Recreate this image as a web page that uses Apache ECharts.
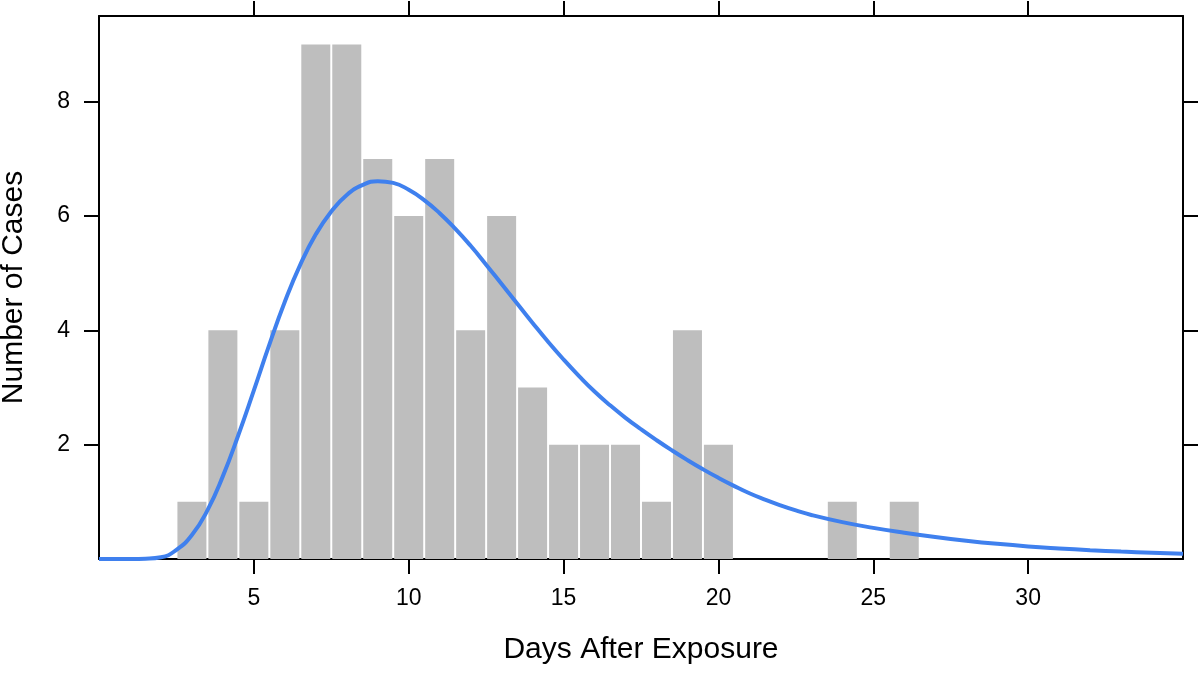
<!DOCTYPE html>
<html>
<head>
<meta charset="utf-8">
<script src="https://cdn.jsdelivr.net/npm/echarts@6/dist/echarts.min.js"></script>
<style>html,body{margin:0;padding:0;background:#fff}#c{width:1200px;height:673px}</style>
</head>
<body>
<div id="c"></div>
<script>
// Histogram: day after exposure (bin centre) and number of cases
const days  = [3, 4, 5, 6, 7, 8, 9, 10, 11, 12, 13, 14, 15, 16, 17, 18, 19, 20, 24, 26];
const cases = [1, 4, 1, 4, 9, 9, 7, 6, 7, 4, 6, 3, 2, 2, 2, 1, 4, 2, 1, 1];

// Fitted density curve (scaled to counts)
const curveX = [0, 1, 1.5, 2, 2.5, 3, 3.5, 4, 4.5, 5, 5.5, 6, 6.5, 7, 7.5, 8, 8.5, 9, 9.5, 10,
  10.5, 11, 11.5, 12, 12.5, 13, 13.5, 14, 14.5, 15, 15.5, 16, 16.5, 17, 17.5, 18, 18.5, 19, 19.5, 20,
  20.5, 21, 21.5, 22, 22.5, 23, 24, 25, 26, 27, 28, 29, 30, 31, 32, 33, 34, 35];
const curveY = [0, 0.001, 0.006, 0.03, 0.16, 0.42, 0.85, 1.45, 2.17, 2.95, 3.75, 4.5, 5.15, 5.68, 6.08, 6.37, 6.54, 6.61, 6.58, 6.46,
  6.28, 6.05, 5.78, 5.48, 5.15, 4.81, 4.47, 4.13, 3.8, 3.49, 3.2, 2.93, 2.69, 2.47, 2.27, 2.08, 1.9, 1.73, 1.57, 1.42,
  1.28, 1.15, 1.04, 0.94, 0.85, 0.77, 0.645, 0.545, 0.46, 0.385, 0.32, 0.265, 0.22, 0.185, 0.155, 0.13, 0.11, 0.09];

const xTicks = [5, 10, 15, 20, 25, 30];
const yTicks = [2, 4, 6, 8];

const FONT = 'Liberation Sans, Arial, Helvetica, sans-serif';
const chart = echarts.init(document.getElementById('c'));
const lineStyle = {color: '#000', width: 2};
const tickStyle = {color: '#000', width: 2};

chart.setOption({
  animation: false,
  backgroundColor: '#fff',
  grid: {left: 99, right: 17, top: 16, bottom: 114, containLabel: false, outerBoundsMode: 'none'},
  xAxis: [{
    type: 'value', min: 0, max: 35, position: 'bottom',
    axisLine: {show: true, lineStyle: lineStyle, onZero: false},
    axisTick: {show: true, inside: false, length: 15, lineStyle: tickStyle, customValues: xTicks},
    axisLabel: {show: true, customValues: xTicks, margin: 28, fontSize: 23, color: '#000', fontFamily: FONT},
    splitLine: {show: false},
    name: 'Days After Exposure', nameLocation: 'middle', nameGap: 76,
    nameTextStyle: {fontSize: 30, color: '#000', fontFamily: FONT}
  }, {
    type: 'value', min: 0, max: 35, position: 'top',
    axisLine: {show: true, lineStyle: lineStyle, onZero: false},
    axisTick: {show: true, inside: false, length: 15, lineStyle: tickStyle, customValues: xTicks},
    axisLabel: {show: false},
    splitLine: {show: false}
  }],
  yAxis: [{
    type: 'value', min: 0, max: 9.5, position: 'left',
    axisLine: {show: true, lineStyle: lineStyle, onZero: false},
    axisTick: {show: true, inside: false, length: 15, lineStyle: tickStyle, customValues: yTicks},
    axisLabel: {show: true, customValues: yTicks, margin: 29, fontSize: 23, color: '#000', fontFamily: FONT},
    splitLine: {show: false},
    name: 'Number of Cases', nameLocation: 'middle', nameGap: 70, nameRotate: 90,
    nameTextStyle: {fontSize: 30, color: '#000', fontFamily: FONT}
  }, {
    type: 'value', min: 0, max: 9.5, position: 'right',
    axisLine: {show: true, lineStyle: lineStyle, onZero: false},
    axisTick: {show: true, inside: false, length: 15, lineStyle: tickStyle, customValues: yTicks},
    axisLabel: {show: false},
    splitLine: {show: false}
  }],
  series: [{
    type: 'bar',
    xAxisIndex: 0, yAxisIndex: 0,
    data: days.map((d, i) => [d, cases[i]]),
    barWidth: 29,
    itemStyle: {color: '#BEBEBE'},
    z: 1
  }, {
    type: 'line',
    xAxisIndex: 0, yAxisIndex: 0,
    data: curveX.map((x, i) => [x, curveY[i]]),
    smooth: 0.5,
    showSymbol: false,
    lineStyle: {color: '#3F80EE', width: 4},
    z: 3
  }]
});
</script>
</body>
</html>
